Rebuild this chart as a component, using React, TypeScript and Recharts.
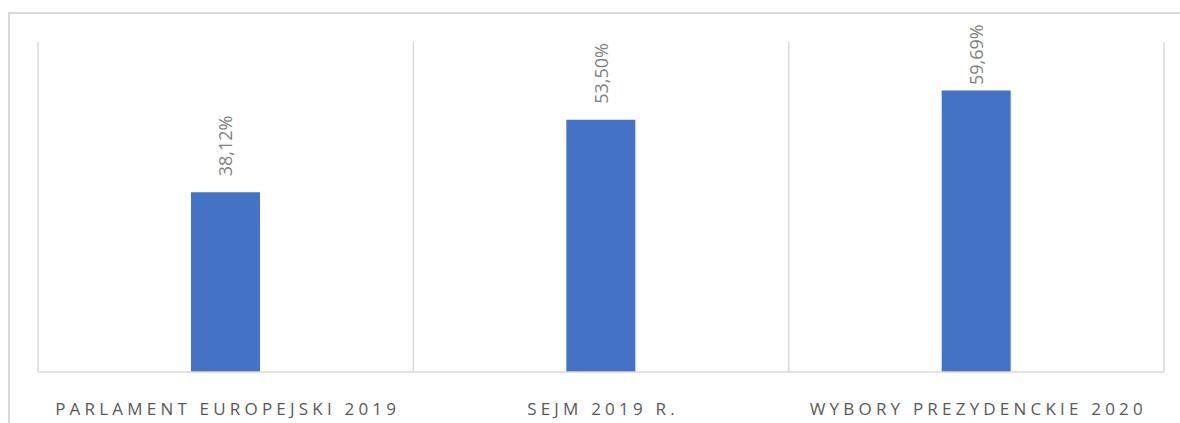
import React from 'react';
import { BarChart, Bar, XAxis, YAxis, CartesianGrid, LabelList } from 'recharts';

const categories = ['PARLAMENT EUROPEJSKI 2019', 'SEJM 2019 R.', 'WYBORY PREZYDENCKIE 2020'];
const turnout = [38.12, 53.5, 59.69];

const data = categories.map((name, i) => ({ name, value: turnout[i] }));

const fmt = (v: number) => v.toFixed(2).replace('.', ',') + '%';

// rotated value label above each bar, kept inside the chart area like Excel does
const ValueLabel = (props: any) => {
  const { x, y, width, value } = props;
  const cx = x + width / 2;
  const cy = Math.max(y - 16, 85);
  return (
    <text
      x={cx}
      y={cy}
      transform={`rotate(-90 ${cx} ${cy})`}
      textAnchor="start"
      dominantBaseline="central"
      fill="#7f7f7f"
      fontSize={18}
      fontFamily="'Open Sans', sans-serif"
    >
      {fmt(value)}
    </text>
  );
};

const CategoryTick = (props: any) => {
  const { x, y, payload } = props;
  return (
    <text
      x={x + 2}
      y={y + 35}
      textAnchor="middle"
      fill="#595959"
      fontSize={17}
      letterSpacing={4.2}
      fontFamily="'Open Sans', sans-serif"
    >
      {payload.value}
    </text>
  );
};

// gridlines on the category band boundaries instead of the band centres
const bandBoundaries = ({ offset }: any) =>
  Array.from({ length: categories.length + 1 }, (_, i) => offset.left + (i * offset.width) / categories.length);

export default function App() {
  return (
    <div style={{ position: 'absolute', left: 0, top: 0, width: 1180, height: 423, background: '#fff', overflow: 'hidden' }}>
      <div
        style={{
          position: 'absolute',
          left: 8,
          top: 12,
          width: 1200,
          height: 440,
          border: '2px solid #d9d9d9',
        }}
      />
      <div style={{ position: 'absolute', left: 0, top: 0 }}>
        <BarChart width={1180} height={423} data={data} margin={{ top: 42, right: 16, bottom: 0, left: 38 }}>
          <XAxis
            dataKey="name"
            height={51}
            tickLine={false}
            axisLine={{ stroke: '#d9d9d9', strokeWidth: 1.5 }}
            tick={<CategoryTick />}
            interval={0}
          />
          <YAxis hide domain={[0, 70]} />
          <CartesianGrid
            horizontal={false}
            verticalCoordinatesGenerator={bandBoundaries}
            stroke="#d9d9d9"
            strokeWidth={1.5}
          />
          <Bar dataKey="value" fill="#4472c4" barSize={69} isAnimationActive={false}>
            <LabelList dataKey="value" content={<ValueLabel />} />
          </Bar>
        </BarChart>
      </div>
    </div>
  );
}
